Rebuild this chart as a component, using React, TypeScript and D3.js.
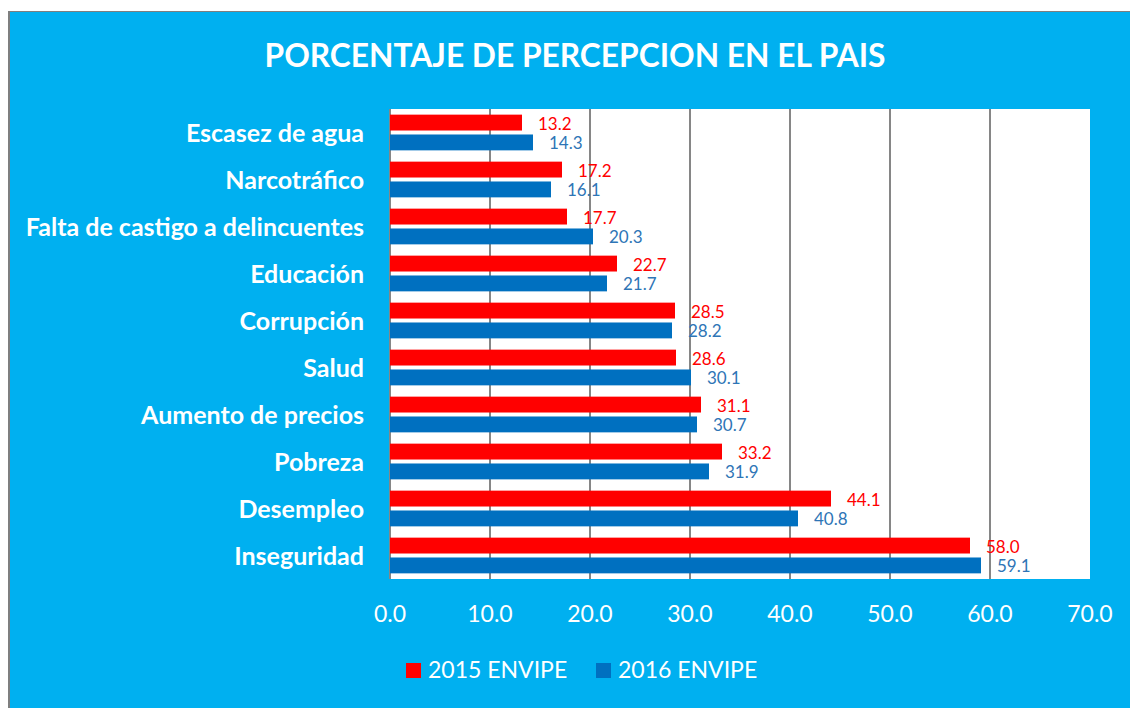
import React from "react";
import * as d3 from "d3";

const categories = [
  "Escasez de agua",
  "Narcotráfico",
  "Falta de castigo a delincuentes",
  "Educación",
  "Corrupción",
  "Salud",
  "Aumento de precios",
  "Pobreza",
  "Desempleo",
  "Inseguridad",
];
const seriesNames = ["2015 ENVIPE", "2016 ENVIPE"];
const values2015 = [13.2, 17.2, 17.7, 22.7, 28.5, 28.6, 31.1, 33.2, 44.1, 58.0];
const values2016 = [14.3, 16.1, 20.3, 21.7, 28.2, 30.1, 30.7, 31.9, 40.8, 59.1];
const tickValues = [0, 10, 20, 30, 40, 50, 60, 70];
const title = "PORCENTAJE DE PERCEPCION EN EL PAIS";

const BAR_COLORS = ["#FF0000", "#0070C0"];
const LABEL_COLORS = ["#FF0000", "#2E75B6"];
const BG = "#00B0F0";
const FONT = "Lato, 'Open Sans', sans-serif";

export default function App() {
  const W = 1130;
  const H = 708;
  const plot = { left: 390, right: 1090, top: 109, bottom: 579 };

  const x = d3.scaleLinear().domain([0, 70]).range([plot.left, plot.right]);
  const y0 = d3
    .scaleBand<string>()
    .domain(categories)
    .range([plot.top, plot.bottom])
    .paddingInner(0.24)
    .paddingOuter(0.12);
  const y1 = d3
    .scaleBand<string>()
    .domain(seriesNames)
    .range([0, y0.bandwidth()])
    .paddingInner(0.2)
    .paddingOuter(0);
  const fmt = d3.format(".1f");
  const seriesValues = [values2015, values2016];

  return (
    <svg
      width={W}
      height={H}
      style={{ position: "absolute", left: 0, top: 0 }}
      fontFamily={FONT}
    >
      <rect x={8} y={11} width={W} height={H} fill="#7F7F7F" />
      <rect x={10} y={12} width={W} height={H} fill={BG} />

      <text
        x={575}
        y={67}
        textAnchor="middle"
        fill="#fff"
        fontWeight="bold"
        fontSize={32}
        textLength={621}
        lengthAdjust="spacingAndGlyphs"
      >
        {title}
      </text>

      <rect
        x={plot.left}
        y={plot.top}
        width={plot.right - plot.left}
        height={plot.bottom - plot.top}
        fill="#fff"
      />

      {tickValues
        .filter((t) => t < 70)
        .map((t) => (
          <line
            key={"g" + t}
            x1={x(t)}
            x2={x(t)}
            y1={plot.top}
            y2={plot.bottom}
            stroke="#868686"
            strokeWidth={2}
          />
        ))}

      {categories.map((c, i) => (
        <g key={c} transform={`translate(0,${y0(c)})`}>
          {seriesNames.map((s, k) => {
            const v = seriesValues[k][i];
            const yy = y1(s)!;
            return (
              <g key={s}>
                <rect
                  x={x(0)}
                  y={yy}
                  width={x(v) - x(0)}
                  height={y1.bandwidth()}
                  fill={BAR_COLORS[k]}
                />
                <text
                  x={x(v) + 16}
                  y={yy + y1.bandwidth() - 1}
                  fill={LABEL_COLORS[k]}
                  fontSize={17}
                >
                  {fmt(v)}
                </text>
              </g>
            );
          })}
        </g>
      ))}

      {categories.map((c) => (
        <text
          key={"l" + c}
          x={364}
          y={y0(c)! + y0.bandwidth() / 2 + 9}
          textAnchor="end"
          fill="#fff"
          fontWeight="bold"
          fontSize={25}
        >
          {c}
        </text>
      ))}

      {tickValues.map((t) => (
        <text
          key={"t" + t}
          x={x(t)}
          y={622}
          textAnchor="middle"
          fill="#fff"
          fontSize={23}
        >
          {fmt(t)}
        </text>
      ))}

      {seriesNames.map((s, k) => {
        const lx = k === 0 ? 406 : 596;
        return (
          <g key={"lg" + s}>
            <rect x={lx} y={663} width={15} height={15} fill={BAR_COLORS[k]} />
            <text x={lx + 22} y={678} fill="#fff" fontSize={23}>
              {s}
            </text>
          </g>
        );
      })}
    </svg>
  );
}
